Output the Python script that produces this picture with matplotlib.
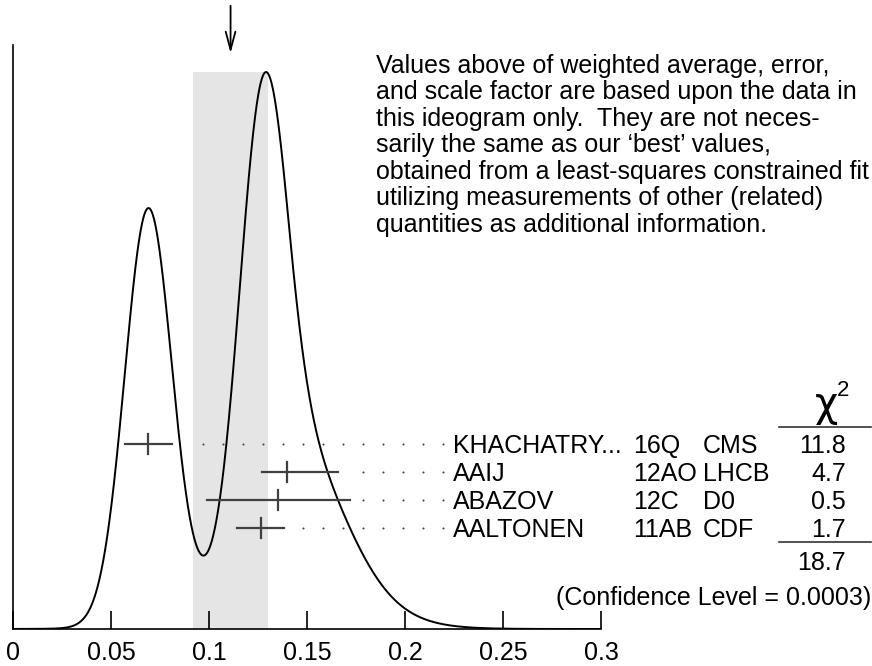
import numpy as np
import matplotlib
matplotlib.use("Agg")
import matplotlib.pyplot as plt

plt.rcParams['font.family'] = ['Liberation Sans', 'DejaVu Sans']

authors = ["KHACHATRY...", "AAIJ", "ABAZOV", "AALTONEN"]
refs = ["16Q", "12AO", "12C", "11AB"]
experiments = ["CMS", "LHCB", "D0", "CDF"]
values = [0.069, 0.140, 0.135, 0.1265]
err_lo = [0.012, 0.013, 0.036, 0.012]
err_hi = [0.012, 0.026, 0.037, 0.012]
chi2 = ["11.8", "4.7", "0.5", "1.7"]
chi2_total = "18.7"
conf_level = "0.0003"

# weighted average and scaled error
avg = 0.111
avg_err = 0.019

xticks = [0, 0.05, 0.1, 0.15, 0.2, 0.25, 0.3]
xticklabels = ["0", "0.05", "0.1", "0.15", "0.2", "0.25", "0.3"]

note = ("Values above of weighted average, error,\n"
        "and scale factor are based upon the data in\n"
        "this ideogram only.  They are not neces-\n"
        "sarily the same as our \u2018best\u2019 values,\n"
        "obtained from a least-squares constrained fit\n"
        "utilizing measurements of other (related)\n"
        "quantities as additional information.")

FS = 18
W, H = 872, 666
fig = plt.figure(figsize=(W / 100, H / 100), dpi=100)

# pixel helpers
AX_L, AX_R, AX_B, AX_T = 13, 601, 629, 45
def fx(px):
    return px / W
def fy(py):
    return 1 - py / H
def ydat(py):
    return AX_B - py

ax = fig.add_axes([fx(AX_L), fy(AX_B), (AX_R - AX_L) / W, (AX_B - AX_T) / H])
ax.set_xlim(0, 0.3)
ax.set_ylim(0, AX_B - AX_T)

# ideogram: each measurement is a (bifurcated) gaussian with area ~ 1/sigma
x = np.linspace(0, 0.3, 1500)
curve = np.zeros_like(x)
for v, lo, hi in zip(values, err_lo, err_hi):
    s = (lo + hi) / 2
    sig = np.where(x < v, lo, hi)
    curve += np.exp(-0.5 * ((x - v) / sig) ** 2) / s ** 2
peak_h = ydat(72)
curve = curve / curve.max() * peak_h

ax.fill_between([avg - avg_err, avg + avg_err], 0, peak_h, color="#e5e5e5", lw=0, zorder=0)
ax.plot(x, curve, color="black", lw=1.4, zorder=3)

# arrow at weighted average
ax.annotate("", xy=(avg, ydat(56)), xytext=(avg, ydat(3)), annotation_clip=False,
            arrowprops=dict(arrowstyle="->,head_length=1.3,head_width=0.35", lw=1.3, color="black"))

# measurements with error bars and dotted leaders
rows = [444, 472, 500, 528]
dot_end = (443 - AX_L) / 1960
for i, (v, lo, hi) in enumerate(zip(values, err_lo, err_hi)):
    yy = ydat(rows[i])
    ax.plot([v - lo, v + hi], [yy, yy], color="#404040", lw=1.6, zorder=4, clip_on=False)
    ax.plot([v, v], [yy - 10, yy + 10], color="#404040", lw=1.6, zorder=4, clip_on=False)
    start = v + hi + 0.006
    n = int((dot_end - start) / 0.0102)
    dots = dot_end - 0.0102 * np.arange(n + 1)
    ax.scatter(dots, np.full(len(dots), yy), s=2.2, color="#444444", lw=0, clip_on=False, zorder=4)

    base = fy(rows[i] + 9)
    fig.text(fx(453), base, authors[i], fontsize=FS, va="baseline")
    fig.text(fx(633), base, refs[i], fontsize=FS, va="baseline")
    fig.text(fx(703), base, experiments[i], fontsize=FS, va="baseline")
    fig.text(fx(846), base, chi2[i], fontsize=FS, va="baseline", ha="right")

# chi2 column
fig.text(fx(838), fy(416), "\u03c7", fontsize=29, ha="right", va="baseline",
         family="DejaVu Sans")
fig.text(fx(837), fy(396), "2", fontsize=16, ha="left", va="baseline")
fig.add_artist(plt.Line2D([fx(779), fx(871)], [fy(427), fy(427)], color="#333333", lw=1.2))
fig.add_artist(plt.Line2D([fx(779), fx(871)], [fy(542), fy(542)], color="#333333", lw=1.2))
fig.text(fx(846), fy(570), chi2_total, fontsize=FS, va="baseline", ha="right")
fig.text(fx(871), fy(605), "(Confidence Level = " + conf_level + ")", fontsize=FS,
         va="baseline", ha="right")

# explanatory note
fig.text(fx(376), fy(54), note, fontsize=FS, va="top", ha="left", linespacing=1.13)

# axes styling
for side in ["top", "right"]:
    ax.spines[side].set_visible(False)
ax.spines["left"].set_linewidth(1.2)
ax.spines["bottom"].set_linewidth(1.2)
ax.set_yticks([])
ax.set_xticks(xticks)
ax.set_xticklabels(xticklabels, fontsize=FS)
ax.tick_params(axis="x", direction="in", length=13, width=1.2, pad=9)

fig.savefig("out.png", dpi=100)
